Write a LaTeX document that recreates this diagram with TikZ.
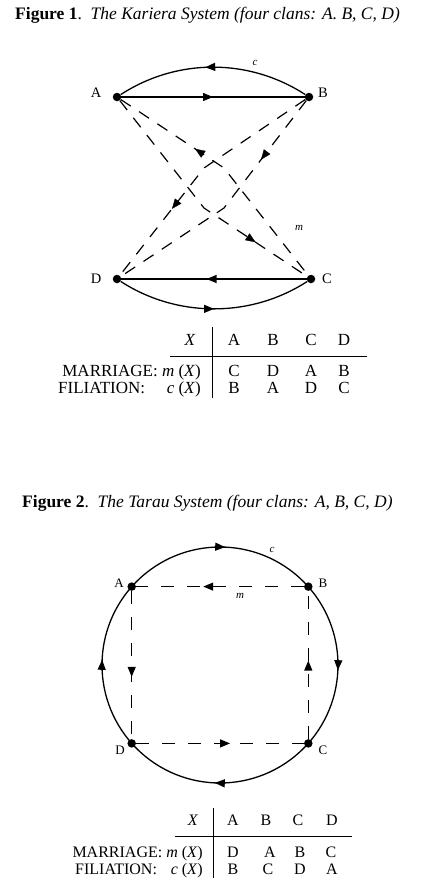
\documentclass[tikz,border=0pt]{standalone}
\usepackage{fontspec}
\setmainfont{Liberation Serif}
\usetikzlibrary{arrows.meta,decorations.markings}
\tikzset{
  >={Triangle[length=10pt,width=8pt]},
  dot/.style={circle, fill=black, inner sep=0pt, minimum size=8.5pt},
  solidline/.style={line width=1.3pt},
  dashline/.style={line width=1.2pt, dash pattern=on 12pt off 10pt},
  dashsq/.style={line width=1.2pt, dash pattern=on 13pt off 13pt},
  fwd/.style={postaction={decorate, decoration={markings, mark=at position #1 with {\arrow{>}}}}},
  bwd/.style={postaction={decorate, decoration={markings, mark=at position #1 with {\arrowreversed{>}}}}},
  titlefont/.style={font=\fontsize{17.5}{17.5}\selectfont, inner sep=0pt},
  labA/.style={font=\fontsize{14.5}{14.5}\selectfont, inner sep=0pt},
  labB/.style={font=\fontsize{13}{13}\selectfont, inner sep=0pt},
  small/.style={font=\fontsize{11}{11}\selectfont\itshape, inner sep=0pt},
  tbA/.style={font=\fontsize{17}{17}\selectfont, inner sep=0pt},
  tbB/.style={font=\fontsize{16}{16}\selectfont, inner sep=0pt},
  rule/.style={line width=1pt},
}
\begin{document}
\begin{tikzpicture}[x=1pt,y=-1pt]
\useasboundingbox (0,0) rectangle (441,884);
\fill[white] (0,0) rectangle (441,884);

% ---------- Figure 1 ----------
\node[titlefont, anchor=base west] (t1) at (15,19) {\textbf{Figure 1}.\ \ \textit{The Kariera System (four clans: A. B, C, D)}};

\node[dot] (A) at (117,97) {};
\node[dot] (B) at (309,97) {};
\node[dot] (C) at (311,279) {};
\node[dot] (D) at (117,279) {};
\node[labA] (lA) at (96,93) {A};
\node[labA] (lB) at (323,93) {B};
\node[labA] (lC) at (327,279) {C};
\node[labA] (lD) at (96,279) {D};

\coordinate (P) at (224,168);
\coordinate (R) at (204,168);
\coordinate (Q) at (204,208);
\coordinate (S) at (224,208);

% filiation c (solid)
\draw[solidline, bwd=0.46] (A) .. controls +(60,-39) and +(-60,-39) .. (B);
\draw[solidline, fwd=0.5] (A) -- (B);
\draw[solidline, bwd=0.46] (D) -- (C);
\draw[solidline, fwd=0.5] (D) .. controls +(60,39) and +(-60,39) .. (C);
\node[small] (c1) at (255,63) {c};

% marriage m (dashed)
\draw[dashline] (A) -- (P) -- (C);
\draw[dashline] (A) -- (Q) -- (C);
\draw[dashline] (B) -- (R) -- (D);
\draw[dashline] (B) -- (S) -- (D);
\path[bwd=0.72] (A) -- (P);
\path[fwd=0.5] (Q) -- (C);
\path[fwd=0.55] (B) -- (S);
\path[fwd=0.38] (R) -- (D);
\node[small] (m1) at (299,228) {m};

% table 1
\node[tbA, anchor=base] (h1x) at (190,345) {\textit{X}};
\node[tbA, anchor=base] (h1a) at (234,345) {A};
\node[tbA, anchor=base] (h1b) at (273,345) {B};
\node[tbA, anchor=base] (h1c) at (311,345) {C};
\node[tbA, anchor=base] (h1d) at (344,345) {D};
\node[tbA, anchor=base east] (r1) at (201,376) {MARRIAGE: \textit{m} (\textit{X})};
\node[tbA, anchor=base] (r1a) at (234,376) {C};
\node[tbA, anchor=base] (r1b) at (273,376) {D};
\node[tbA, anchor=base] (r1c) at (311,376) {A};
\node[tbA, anchor=base] (r1d) at (344,376) {B};
\node[tbA, anchor=base west] (r2l) at (58,393) {FILIATION:};
\node[tbA, anchor=base east] (r2) at (201,393) {\textit{c} (\textit{X})};
\node[tbA, anchor=base] (r2a) at (234,393) {B};
\node[tbA, anchor=base] (r2b) at (273,393) {A};
\node[tbA, anchor=base] (r2c) at (311,393) {D};
\node[tbA, anchor=base] (r2d) at (344,393) {C};
\draw[rule] (212,327) -- (212,398);
\draw[rule] (170,356) -- (367,356);

% ---------- Figure 2 ----------
\node[titlefont, anchor=base west] (t2) at (22,507) {\textbf{Figure 2}.\ \ \textit{The Tarau System (four clans: A, B, C, D)}};

\coordinate (O) at (220,665);
\draw[solidline, postaction={decorate, decoration={markings,
   mark=at position 0.132 with {\arrow{>}},
   mark=at position 0.382 with {\arrow{>}},
   mark=at position 0.632 with {\arrow{>}},
   mark=at position 0.882 with {\arrow{>}}}}]
   (O) ++(135:118) arc[start angle=135, end angle=495, radius=118];

\node[dot] (A2) at (131.7,586.6) {};
\node[dot] (B2) at (308.3,586.6) {};
\node[dot] (C2) at (308.3,743.4) {};
\node[dot] (D2) at (131.7,743.4) {};
\node[labB] (lA2) at (119,583) {A};
\node[labB] (lB2) at (323,583) {B};
\node[labB] (lC2) at (323,750) {C};
\node[labB] (lD2) at (120,750) {D};
\node[small] (c2) at (272,550) {c};

\draw[dashsq, fwd=0.6] (B2) -- (A2);
\draw[dashsq, fwd=0.58] (A2) -- (D2);
\draw[dashsq, fwd=0.53] (C2) -- (B2);
\draw[dashsq, fwd=0.56] (D2) -- (C2);
\node[small] (m2) at (240,596) {m};

% table 2
\node[tbB, anchor=base] (h2x) at (193,825) {\textit{X}};
\node[tbB, anchor=base] (h2a) at (233,825) {A};
\node[tbB, anchor=base] (h2b) at (266,825) {B};
\node[tbB, anchor=base] (h2c) at (298,825) {C};
\node[tbB, anchor=base] (h2d) at (332,825) {D};
\node[tbB, anchor=base east] (s1) at (203,857) {MARRIAGE: \textit{m} (\textit{X})};
\node[tbB, anchor=base] (s1a) at (233,857) {D};
\node[tbB, anchor=base] (s1b) at (270,857) {A};
\node[tbB, anchor=base] (s1c) at (300,857) {B};
\node[tbB, anchor=base] (s1d) at (331,857) {C};
\node[tbB, anchor=base west] (s2l) at (75,874) {FILIATION:};
\node[tbB, anchor=base east] (s2) at (203,874) {\textit{c} (\textit{X})};
\node[tbB, anchor=base] (s2a) at (233,874) {B};
\node[tbB, anchor=base] (s2b) at (268,874) {C};
\node[tbB, anchor=base] (s2c) at (300,874) {D};
\node[tbB, anchor=base] (s2d) at (332,874) {A};
\draw[rule] (213,808) -- (213,878);
\draw[rule] (175,836) -- (352,836);
\end{tikzpicture}
\end{document}
